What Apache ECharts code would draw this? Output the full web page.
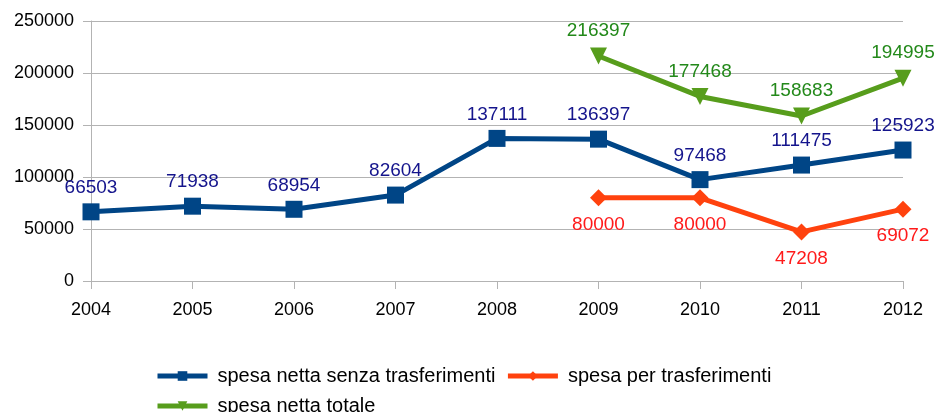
<!DOCTYPE html>
<html>
<head>
<meta charset="utf-8">
<style>
  html, body { margin: 0; padding: 0; background: #fff; }
  #chart { width: 936px; height: 412px; }
</style>
<script src="https://cdn.jsdelivr.net/npm/echarts@6/dist/echarts.min.js"></script>
</head>
<body>
<div id="chart"></div>
<script>
  'use strict';

  const years = ['2004', '2005', '2006', '2007', '2008', '2009', '2010', '2011', '2012'];
  const spesaSenzaTrasf = [66503, 71938, 68954, 82604, 137111, 136397, 97468, 111475, 125923];
  const spesaTrasf = [null, null, null, null, null, 80000, 80000, 47208, 69072];
  const spesaTotale = [null, null, null, null, null, 216397, 177468, 158683, 194995];

  const font = 'Liberation Sans, Arial, sans-serif';

  const makeSeries = function makeSeries(name, data, color, symbol, labelColor, labelPos, dist) {
    return {
      name: name,
      type: 'line',
      data: data,
      symbol: symbol,
      symbolSize: 17,
      lineStyle: { color: color, width: 5 },
      itemStyle: { color: color },
      connectNulls: false,
      label: {
        show: true,
        position: labelPos,
        distance: dist,
        color: labelColor,
        fontFamily: font,
        fontSize: 19
      }
    };
  };

  const chart = echarts.init(document.getElementById('chart'), null, { renderer: 'canvas' });

  const totale = makeSeries('spesa netta totale', spesaTotale, '#579d1c', 'triangle', '#23891a', 'top', 7);
  totale.symbolRotate = 180;

  chart.setOption({
    animation: false,
    grid: { left: 91, right: 33, top: 21, bottom: 131, containLabel: false },
    xAxis: {
      type: 'category',
      data: years,
      boundaryGap: false,
      axisLine: { lineStyle: { color: '#b3b3b3', width: 1 } },
      axisTick: { show: true, length: 8, alignWithLabel: true, lineStyle: { color: '#b3b3b3' } },
      axisLabel: { color: '#000', fontFamily: font, fontSize: 18, margin: 20 },
      splitLine: { show: false }
    },
    yAxis: {
      type: 'value',
      min: 0,
      max: 250000,
      interval: 50000,
      axisLine: { show: true, lineStyle: { color: '#b3b3b3', width: 1 } },
      axisTick: { show: true, length: 8, lineStyle: { color: '#b3b3b3' } },
      axisLabel: {
        color: '#000', fontFamily: font, fontSize: 18, margin: 17,
        formatter: function (v) { return String(v); }
      },
      splitLine: { show: true, lineStyle: { color: '#b3b3b3', width: 1 } }
    },
    legend: {
      left: 150,
      top: 361,
      width: 660,
      itemWidth: 50,
      itemHeight: 12,
      itemGap: 10,
      lineStyle: { width: 5 },
      textStyle: { color: '#000', fontFamily: font, fontSize: 20, padding: [0, 0, 0, 5] },
      data: ['spesa netta senza trasferimenti', 'spesa per trasferimenti', 'spesa netta totale']
    },
    series: [
      makeSeries('spesa netta senza trasferimenti', spesaSenzaTrasf, '#004586', 'rect', '#14148c', 'top', 6),
      makeSeries('spesa per trasferimenti', spesaTrasf, '#ff420e', 'diamond', '#ff1a1a', 'bottom', 9),
      totale
    ]
  });
</script>
</body>
</html>
